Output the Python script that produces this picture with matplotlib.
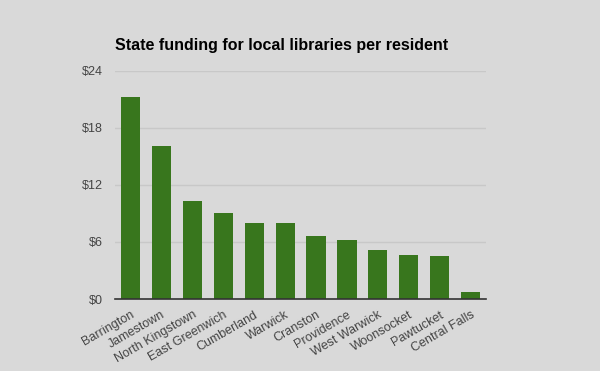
import matplotlib
matplotlib.use('Agg')
import matplotlib.pyplot as plt

# Daten
towns = ['Barrington', 'Jamestown', 'North Kingstown', 'East Greenwich', 'Cumberland',
         'Warwick', 'Cranston', 'Providence', 'West Warwick', 'Woonsocket',
         'Pawtucket', 'Central Falls']
funding = [21.3, 16.1, 10.3, 9.05, 8.0, 8.0, 6.63, 6.2, 5.16, 4.63, 4.53, 0.74]
yticks = [0, 6, 12, 18, 24]

plt.rcParams['font.family'] = ['Liberation Sans', 'DejaVu Sans']
bg = '#d9d9d9'

fig = plt.figure(figsize=(6, 3.71), dpi=100, facecolor=bg)
ax = fig.add_axes([0.192, 0.194, 0.618, 0.615], facecolor=bg)

ax.bar(range(len(towns)), funding, width=0.62, color='#38761d', zorder=3)
ax.set_xlim(-0.5, len(towns) - 0.5)
ax.set_ylim(0, 24)

ax.set_yticks(yticks)
ax.set_yticklabels(['$%d' % v for v in yticks])
ax.set_xticks(range(len(towns)))
ax.set_xticklabels(towns, rotation=30, ha='right', rotation_mode='anchor')
ax.tick_params(axis='both', length=0, labelsize=9, colors='#444444')
ax.tick_params(axis='y', pad=9)
ax.tick_params(axis='x', pad=7)

ax.grid(axis='y', color='#c8c8c8', linewidth=1, zorder=0)
for s in ['top', 'right', 'left']:
    ax.spines[s].set_visible(False)
ax.spines['bottom'].set_color('#333333')
ax.spines['bottom'].set_linewidth(1.2)
ax.spines['bottom'].set_zorder(4)

fig.text(0.192, 0.878, 'State funding for local libraries per resident',
         fontsize=11.5, fontweight='bold', color='black', va='center')

plt.savefig('out.png', facecolor=bg)
